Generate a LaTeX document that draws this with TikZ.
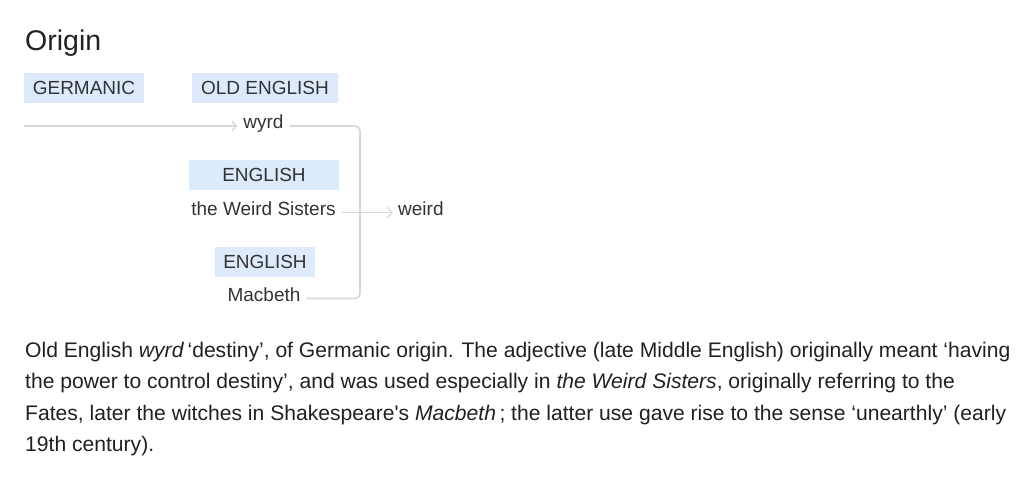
\documentclass[tikz,border=0pt]{standalone}
\usepackage{fontspec}
\setmainfont{Liberation Sans}
\usetikzlibrary{arrows.meta}
\definecolor{boxblue}{HTML}{DCEAFB}
\definecolor{linegray}{HTML}{D8D8D8}
\definecolor{txt}{HTML}{333333}
\definecolor{bodytxt}{HTML}{202124}
\tikzset{
  lang/.style={fill=boxblue, text=txt, minimum height=30pt, inner xsep=8pt, inner ysep=0pt, font=\fontsize{19}{22}\selectfont},
  word/.style={text=txt, inner xsep=6pt, inner ysep=2pt, font=\fontsize{19}{22}\selectfont},
  conn/.style={draw=linegray, line width=1.8pt},
  tip/.style={-{Straight Barb[length=4.5pt,width=10pt,line width=1.3pt]}},
  bodyline/.style={anchor=base west, inner sep=0pt, text=bodytxt, font=\fontsize{21.1}{25}\selectfont},
}
\begin{document}
\begin{tikzpicture}[x=1pt,y=-1pt]
\useasboundingbox[fill=white] (0,0) rectangle (1024,482);
\node[anchor=base west, inner sep=0pt, text=bodytxt, font=\fontsize{28.5}{32}\selectfont] (title) at (25,50) {Origin};
\node[lang, minimum width=120pt] (germ) at (84,88) {GERMANIC};
\node[lang, minimum width=146pt] (oe) at (265,88) {OLD ENGLISH};
\node[lang, minimum width=150pt] (en1) at (264,175) {ENGLISH};
\node[lang, minimum width=100pt] (en2) at (265,262) {ENGLISH};
\node[word, anchor=mid] (wyrd) at (263.5,126) {wyrd};
\node[word, anchor=mid] (ws) at (263.5,212.5) {the Weird Sisters};
\node[word, anchor=mid] (mac) at (264,298.5) {Macbeth};
\node[word, anchor=mid west, inner xsep=5pt] (weird) at (393,212.5) {weird};
\coordinate (gstart) at (24,126);
\coordinate (junc) at (360,212.5);
\draw[conn, tip] (gstart) -- (wyrd.mid west);
\draw[conn, rounded corners=5pt] (wyrd.mid east) -| (junc) |- (mac.mid east);
\draw[conn, tip] (ws.mid east) -- (weird.mid west);
\node[bodyline] (l1) at (25,357) {Old English \textit{wyrd}\,‘destiny’, of Germanic origin. The adjective (late Middle English) originally meant ‘having};
\node[bodyline] (l2) at (25,388) {the power to control destiny’, and was used especially in \textit{the Weird Sisters}, originally referring to the};
\node[bodyline] (l3) at (25,420) {Fates, later the witches in Shakespeare\textquotesingle s \textit{Macbeth}\,; the latter use gave rise to the sense ‘unearthly’ (early};
\node[bodyline] (l4) at (25,451) {19th century).};
\end{tikzpicture}
\end{document}
